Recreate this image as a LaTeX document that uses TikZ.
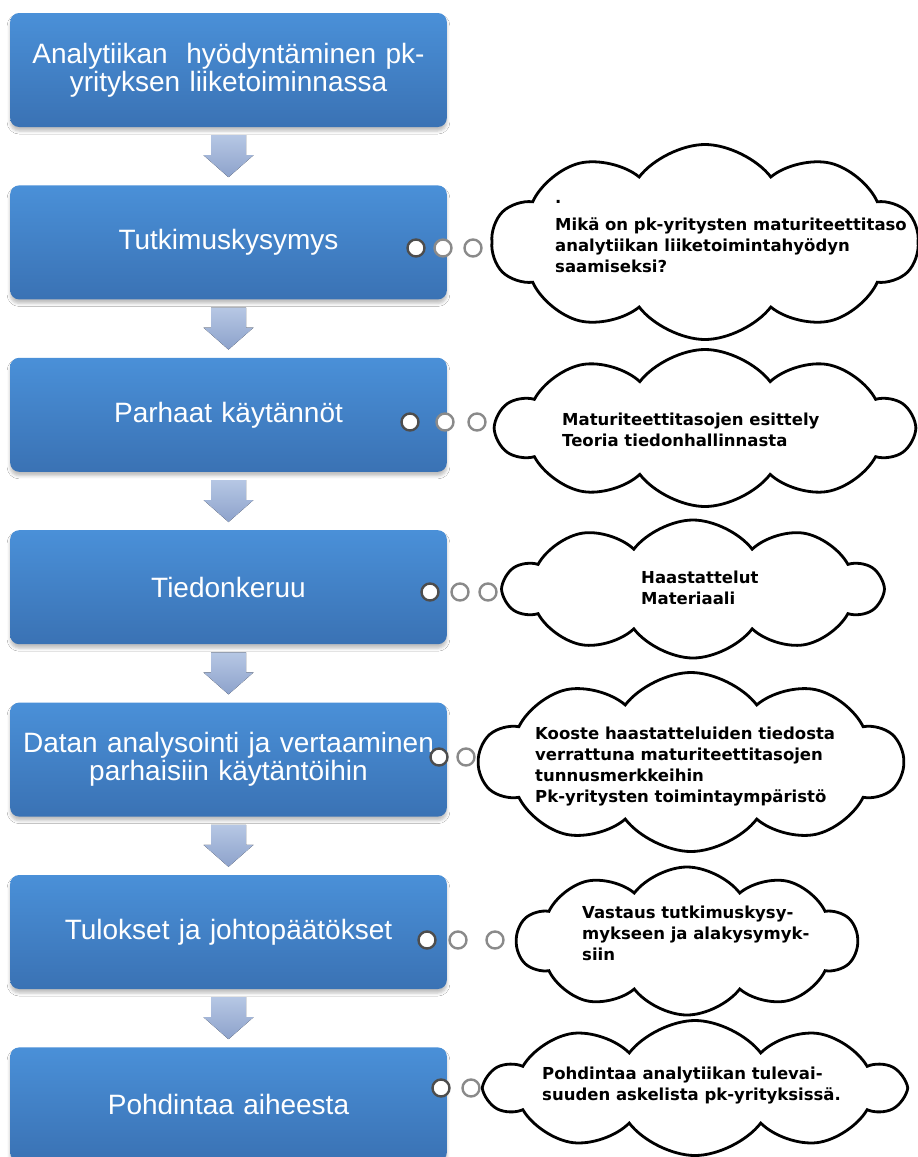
\documentclass[tikz,border=0pt]{standalone}
\usepackage{fontspec}
\setmainfont{Liberation Sans}
\newfontfamily\bubblefont{DejaVu Sans}
\usetikzlibrary{positioning,calc,shapes.symbols,shadows.blur}
\definecolor{boxtop}{HTML}{4A90D8}
\definecolor{boxbottom}{HTML}{3A72B4}
\definecolor{arrowtop}{HTML}{B6C7E4}
\definecolor{arrowbottom}{HTML}{8DA2CB}
\definecolor{dotrim}{HTML}{8A8A8A}
\definecolor{dotrimdark}{HTML}{4D4D4D}

\begin{document}
\begin{tikzpicture}[
  x=1pt,
  y=-1pt,
  stage/.style={rectangle, rounded corners=9pt, minimum width=433pt,
    minimum height=114pt, text width=430pt, align=center,
    top color=boxtop, bottom color=boxbottom, text=white,
    font=\fontsize{28}{28}\selectfont,
    blur shadow={shadow xshift=0pt, shadow yshift=-4pt,
      shadow blur radius=3pt, shadow opacity=25}},
  flowarrow/.style={top color=arrowtop, bottom color=arrowbottom},
  thought/.style={cloud, cloud puffs=10, cloud puff arc=105, cloud ignores aspect,
    draw=black, line width=2.8pt, fill=white, inner sep=0pt},
  thoughttext/.style={anchor=west, align=left, inner sep=0pt,
    font=\bubblefont\bfseries\fontsize{16.5}{21}\selectfont},
  bubble/.style={circle, minimum size=17pt, inner sep=0pt, fill=white,
    draw=dotrim, line width=2.4pt},
  bubblefirst/.style={bubble, draw=dotrimdark}
]
  \fill[white] (0,0) rectangle (918,1157);
  \useasboundingbox (0,0) rectangle (918,1157);

  % ---- the clouds on the right ------------------------------------------
  \node[thought, minimum width=426pt, minimum height=195pt] (c2) at (705,242) {};
  \node[thought, minimum width=416pt, minimum height=157pt] (c3) at (705,428) {};
  \node[thought, minimum width=377pt, minimum height=138pt] (c4) at (693,589) {};
  \node[thought, minimum width=423pt, minimum height=179pt] (c5) at (691,762) {};
  \node[thought, minimum width=340pt, minimum height=148pt] (c6) at (687,941) {};
  \node[thought, minimum width=416pt, minimum height=135pt] (c7) at (695,1088) {};

  \node[thoughttext] (t2) at (555,237)
    {.\\[6pt]Mikä on pk-yritysten maturiteettitaso\\analytiikan liiketoimintahyödyn\\saamiseksi?};
  \node[thoughttext] (t3) at (562,430)
    {Maturiteettitasojen esittely\\Teoria tiedonhallinnasta};
  \node[thoughttext] (t4) at (641,588)
    {Haastattelut\\Materiaali};
  \node[thoughttext] (t5) at (535,767)
    {Kooste haastatteluiden tiedosta\\verrattuna maturiteettitasojen\\tunnusmerkkeihin\\Pk-yritysten toimintaympäristö};
  \node[thoughttext] (t6) at (582,933)
    {Vastaus tutkimuskysy-\\mykseen ja alakysymyk-\\siin};
  \node[thoughttext] (t7) at (542,1085)
    {Pohdintaa analytiikan tulevai-\\suuden askelista pk-yrityksissä.};

  % ---- the steps ----------------------------------------------------------
  \node[stage] (b1) at (228.5,70)
    {Analytiikan\ \ hyödyntäminen pk-\\yrityksen liiketoiminnassa};
  \node[stage, below=58pt of b1] (b2) {Tutkimuskysymys};
  \node[stage, below=58pt of b2] (b3) {Parhaat käytännöt};
  \node[stage, below=58pt of b3] (b4) {Tiedonkeruu};
  \node[stage, below=58pt of b4] (b5)
    {Datan analysointi ja vertaaminen\\parhaisiin käytäntöihin};
  \node[stage, below=58pt of b5] (b6) {Tulokset ja johtopäätökset};
  \node[stage, below=58pt of b6] (b7) {Pohdintaa aiheesta};

  % block arrows hanging under each step
  \foreach \i in {1,...,6}
    \fill[flowarrow] ($(b\i.south)+(-17.5,8)$) -- ($(b\i.south)+(17.5,8)$)
      -- ($(b\i.south)+(17.5,28)$) -- ($(b\i.south)+(25,28)$)
      -- ($(b\i.south)+(0,50)$) -- ($(b\i.south)+(-25,28)$)
      -- ($(b\i.south)+(-17.5,28)$) -- cycle;

  % ---- thought bubbles from step to cloud ------------------------------
  \node[bubblefirst] (d2a) at (416,248) {};
  \node[bubble] (d2b) at (443,248) {};
  \node[bubble] (d2c) at (473,248) {};
  \node[bubblefirst] (d3a) at (410,422) {};
  \node[bubble] (d3b) at (445,422) {};
  \node[bubble] (d3c) at (477,422) {};
  \node[bubblefirst] (d4a) at (430,592) {};
  \node[bubble] (d4b) at (460,592) {};
  \node[bubble] (d4c) at (488,592) {};
  \node[bubblefirst] (d5a) at (439,757) {};
  \node[bubble] (d5b) at (466,757) {};
  \node[bubblefirst] (d6a) at (427,940) {};
  \node[bubble] (d6b) at (458,940) {};
  \node[bubble] (d6c) at (495,940) {};
  \node[bubblefirst] (d7a) at (441,1088) {};
  \node[bubble] (d7b) at (471,1088) {};
\end{tikzpicture}
\end{document}
